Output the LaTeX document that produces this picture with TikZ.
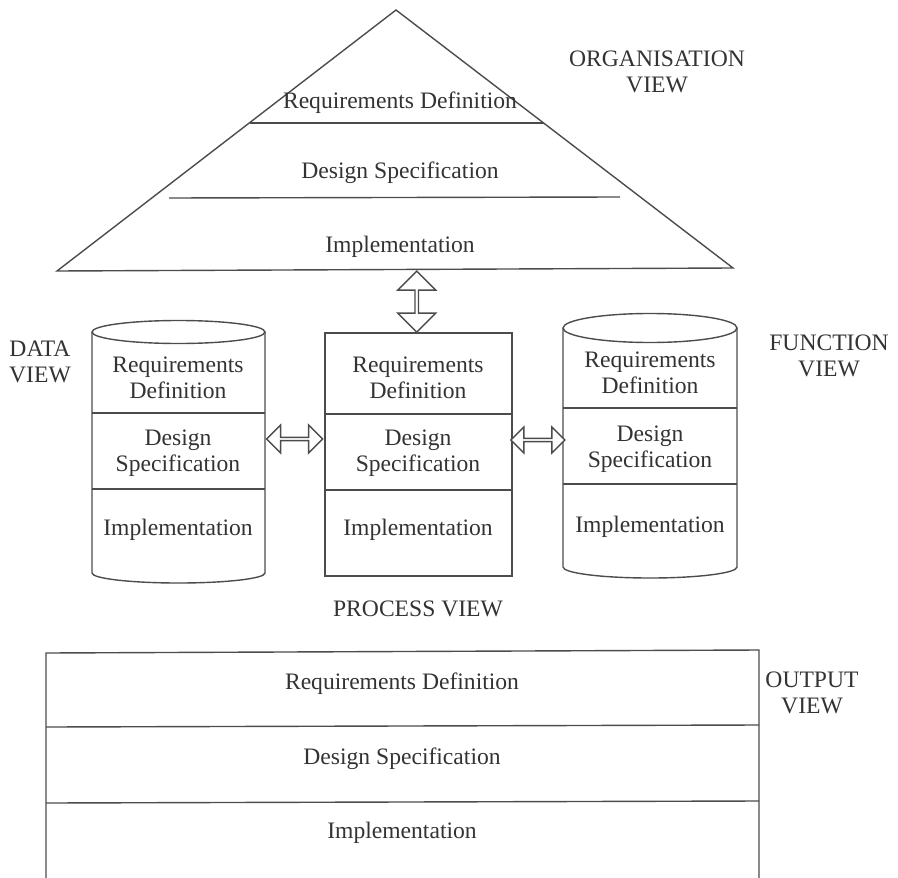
\documentclass[tikz,border=0pt]{standalone}
\usepackage{fontspec}
\setmainfont{Liberation Serif}
\usetikzlibrary{shapes.arrows,calc,positioning}

\begin{document}
\begin{tikzpicture}[
    x=0.5pt, y=-0.5pt,
    every node/.style={font=\fontsize{11.8}{13}\selectfont, text=black!80},
    layer/.style={align=center, inner sep=0pt},
    viewlabel/.style={align=center, inner sep=0pt},
    outline/.style={draw=black!70, line width=0.7pt},
    dblarrow/.style={double arrow, draw=black!70, line width=0.7pt, fill=white,
        inner sep=0pt, double arrow tip angle=90}
]
\useasboundingbox (0,0) rectangle (898,877);

% organisation view
\coordinate (orgtop) at (396,10);
\coordinate (orgleft) at (57,271);
\coordinate (orgright) at (733,268);
\coordinate (orgbase) at (415,271);
\draw[outline] (orgtop) -- (orgright) -- (orgleft) -- cycle;
\draw[outline] (250,123) -- (544,123);
\draw[outline] (169,198) -- (620,197);
\node[layer] (orgreq) at (400,103) {Requirements Definition};
\node[layer] (orgdesign) at (400,173) {Design Specification};
\node[layer] (orgimpl) at (400,247) {Implementation};
\node[viewlabel] (orglabel) at (657,72) {ORGANISATION\\VIEW};

% process view
\node[outline, minimum width=93.5pt, minimum height=121.5pt, inner sep=0pt] (process) at (418.5,454.5) {};
\draw[outline] (325,414) -- (512,414);
\draw[outline] (325,490) -- (512,490);
\node[layer] (procreq) at (418,378) {Requirements\\Definition};
\node[layer] (procdesign) at (418,453) {Design\\Specification};
\node[layer] (procimpl) at (418,530) {Implementation};
\node[viewlabel] (proclabel) at (418,609) {PROCESS VIEW};

% data view
\coordinate (dataE) at (265,439);
\draw[outline] (92,332) -- (92,573) arc[start angle=180, end angle=0, x radius=86.5, y radius=10] -- (265,332);
\draw[outline] (178.5,332) ellipse[x radius=86.5, y radius=11.5];
\draw[outline] (92,413) -- (265,413);
\draw[outline] (92,489) -- (265,489);
\node[layer] (datareq) at (178,378) {Requirements\\Definition};
\node[layer] (datadesign) at (178,453) {Design\\Specification};
\node[layer] (dataimpl) at (178,530) {Implementation};
\node[viewlabel] (datalabel) at (40,362) {DATA\\VIEW};

% function view
\coordinate (funcW) at (563,440);
\draw[outline] (563,328) -- (563,567) arc[start angle=180, end angle=0, x radius=87, y radius=11] -- (737,328);
\draw[outline] (650,328) ellipse[x radius=87, y radius=14.5];
\draw[outline] (563,408) -- (737,408);
\draw[outline] (563,484) -- (737,484);
\node[layer] (funcreq) at (650,373) {Requirements\\Definition};
\node[layer] (funcdesign) at (650,449) {Design\\Specification};
\node[layer] (funcimpl) at (650,527) {Implementation};
\node[viewlabel] (funclabel) at (829,356) {FUNCTION\\VIEW};

% output view
\draw[outline] (46,880) -- (46,653) -- (759,650) -- (759,880);
\draw[outline] (46,727) -- (759,725);
\draw[outline] (46,803) -- (759,801);
\node[layer] (outreq) at (402,684) {Requirements Definition};
\node[layer] (outdesign) at (402,759) {Design Specification};
\node[layer] (outimpl) at (402,833) {Implementation};
\node[viewlabel] (outlabel) at (812,693) {OUTPUT\\VIEW};

% links between the views
\node[dblarrow, rotate=90, minimum height=30.5pt, minimum width=19pt,
    double arrow head extend=3.5pt] (orgarrow) at ($(orgbase)!0.5!(process.north)$) {};
\node[dblarrow, minimum height=28pt, minimum width=14pt,
    double arrow head extend=2.65pt] (dataarrow) at ($(dataE)!0.5!(process.west |- dataE)$) {};
\node[dblarrow, minimum height=27pt, minimum width=13pt,
    double arrow head extend=2.5pt] (funcarrow) at ($(process.east |- funcW)!0.5!(funcW)$) {};

\end{tikzpicture}
\end{document}
